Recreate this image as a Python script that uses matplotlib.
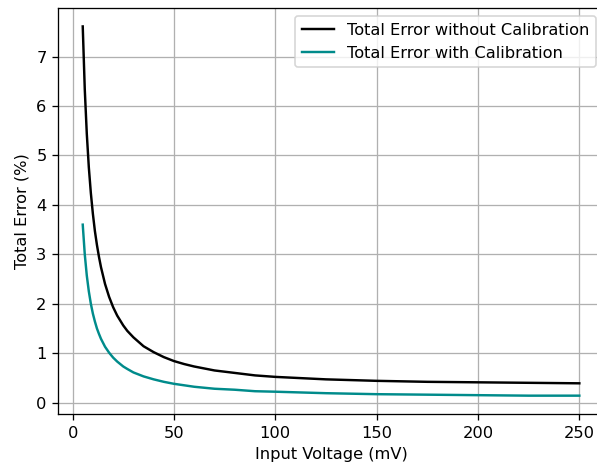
import matplotlib
matplotlib.use("Agg")
import matplotlib.pyplot as plt

# Valores (mV, %)
voltage = [5, 6, 7, 8, 9, 10, 11, 12, 13, 14, 16, 18, 20, 22, 25, 27, 30, 35,
           40, 45, 50, 55, 60, 65, 70, 80, 90, 100, 125, 150, 175, 200, 225, 250]
err_without_cal = [7.61, 6.34, 5.44, 4.76, 4.24, 3.82, 3.47, 3.19, 2.95, 2.74,
                   2.40, 2.14, 1.93, 1.76, 1.56, 1.45, 1.32, 1.14, 1.02, 0.92,
                   0.84, 0.78, 0.73, 0.69, 0.65, 0.60, 0.55, 0.52, 0.47, 0.44,
                   0.42, 0.41, 0.40, 0.39]
err_with_cal = [3.60, 3.00, 2.57, 2.25, 2.00, 1.80, 1.64, 1.50, 1.39, 1.29,
                1.13, 1.01, 0.91, 0.83, 0.73, 0.68, 0.61, 0.53, 0.47, 0.42,
                0.38, 0.35, 0.32, 0.30, 0.28, 0.26, 0.23, 0.22, 0.19, 0.17,
                0.16, 0.15, 0.14, 0.14]

dpi = 117
fig = plt.figure(figsize=(597 / dpi, 469 / dpi), dpi=dpi)
ax = fig.add_axes([0.097, 0.117, 0.915, 0.866])

ax.plot(voltage, err_without_cal, color='black', label='Total Error without Calibration')
ax.plot(voltage, err_with_cal, color='darkcyan', label='Total Error with Calibration')

ax.set_xlabel('Input Voltage (mV)')
ax.set_ylabel('Total Error (%)')
ax.grid(True)
ax.legend(loc='upper right')

fig.savefig('out.png', dpi=dpi)
